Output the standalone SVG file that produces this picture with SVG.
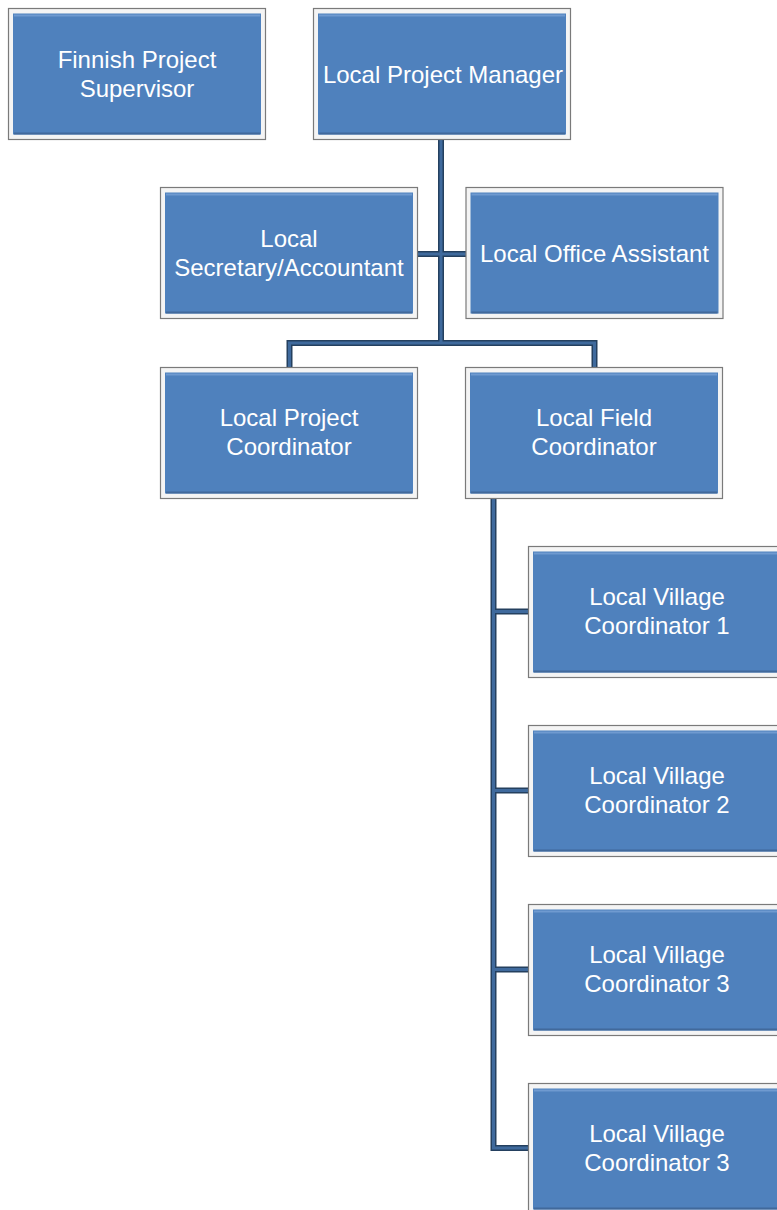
<svg xmlns="http://www.w3.org/2000/svg" width="777" height="1210" viewBox="0 0 777 1210">
<style>
.frame{fill:#f4f4f4;stroke:#7a7a7a;stroke-width:1.2}
.inner{fill:#4f81bd}
.hi{fill:none;stroke:#6f9ad0;stroke-width:2}
.lo{fill:none;stroke:#41699b;stroke-width:2}
.t{font-family:"Liberation Sans",Arial,sans-serif;font-size:24px;fill:#ffffff;text-anchor:middle}
.c1{fill:none;stroke:#24405f;stroke-width:6;stroke-linejoin:miter}
.c2{fill:none;stroke:#3f6a9d;stroke-width:3;stroke-linejoin:miter}
</style>
<defs>
<g id="box">
<rect class="frame" x="0" y="0" width="257" height="131"/>
<rect class="inner" x="4.5" y="5" width="248" height="121"/>
<path class="hi" d="M5.5,7 H251.5"/>
<path class="lo" d="M5.5,125 H251.5"/>
</g>
</defs>
<g id="connectors">
<path class="c1" d="M441,140 V343 M418,254 H466 M289.5,367.5 V343 H594.5 V367.5 M493.5,498 V1148 H528.5 M493.5,611.5 H528.5 M493.5,790.5 H528.5 M493.5,969.5 H528.5"/>
<path class="c2" d="M441,140 V343 M418,254 H466 M289.5,367.5 V343 H594.5 V367.5 M493.5,498 V1148 H528.5 M493.5,611.5 H528.5 M493.5,790.5 H528.5 M493.5,969.5 H528.5"/>
</g>
<g id="finnish-project-supervisor">
<use href="#box" x="8.5" y="8.5"/>
<text class="t" x="137" y="68">Finnish Project</text>
<text class="t" x="137" y="97">Supervisor</text>
</g>
<g id="local-project-manager">
<use href="#box" x="313.5" y="8.5"/>
<text class="t" x="443" y="83">Local Project Manager</text>
</g>
<g id="local-secretary-accountant">
<use href="#box" x="160.5" y="187.5"/>
<text class="t" x="289" y="247">Local</text>
<text class="t" x="289" y="276">Secretary/Accountant</text>
</g>
<g id="local-office-assistant">
<use href="#box" x="466" y="187.5"/>
<text class="t" x="594.5" y="262">Local Office Assistant</text>
</g>
<g id="local-project-coordinator">
<use href="#box" x="160.5" y="367.5"/>
<text class="t" x="289" y="426">Local Project</text>
<text class="t" x="289" y="455">Coordinator</text>
</g>
<g id="local-field-coordinator">
<use href="#box" x="465.5" y="367.5"/>
<text class="t" x="594" y="426">Local Field</text>
<text class="t" x="594" y="455">Coordinator</text>
</g>
<g id="local-village-coordinator-1">
<use href="#box" x="528.5" y="546.5"/>
<text class="t" x="657" y="605">Local Village</text>
<text class="t" x="657" y="634">Coordinator 1</text>
</g>
<g id="local-village-coordinator-2">
<use href="#box" x="528.5" y="725.5"/>
<text class="t" x="657" y="784">Local Village</text>
<text class="t" x="657" y="813">Coordinator 2</text>
</g>
<g id="local-village-coordinator-3">
<use href="#box" x="528.5" y="904.5"/>
<text class="t" x="657" y="963">Local Village</text>
<text class="t" x="657" y="992">Coordinator 3</text>
</g>
<g id="local-village-coordinator-3b">
<use href="#box" x="528.5" y="1083.5"/>
<text class="t" x="657" y="1142">Local Village</text>
<text class="t" x="657" y="1171">Coordinator 3</text>
</g>
</svg>
